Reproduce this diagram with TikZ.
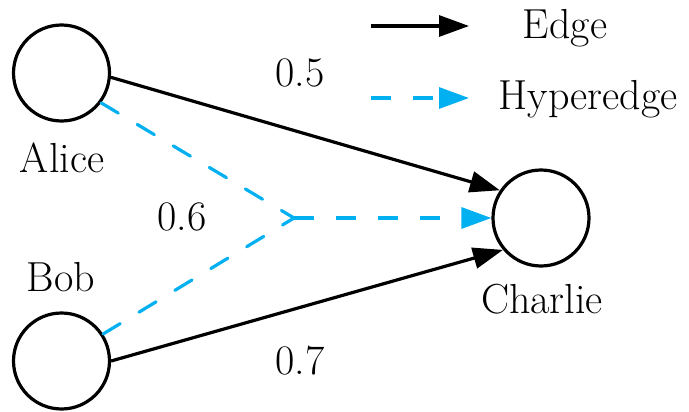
\documentclass[tikz,border=0pt]{standalone}
\usetikzlibrary{arrows.meta}
\definecolor{hblue}{RGB}{0,176,240}
\begin{document}
\begin{tikzpicture}[x=1pt,y=-1pt,
  person/.style={circle,draw=black,line width=3.2pt,minimum size=96pt,inner sep=0pt},
  lbl/.style={anchor=base,inner sep=0pt,font=\fontsize{42}{50}\selectfont},
  edgeline/.style={draw=black,line width=3.2pt,-{Triangle[length=30pt,width=21pt]}},
  hyper/.style={draw=hblue,line width=3.2pt,dash pattern=on 20pt off 22pt},
  hyperarrow/.style={hyper,-{Triangle[length=30pt,width=21pt]}}]
\useasboundingbox (0,0) rectangle (689,412);
\node[person] (alice) at (61.5,73) {};
\node[person] (bob) at (61.5,361) {};
\node[person] (charlie) at (541,218) {};
\coordinate (j) at (294,218);
\node[lbl] (la) at (62,172) {Alice};
\node[lbl] (lb) at (61,291) {Bob};
\node[lbl] (lc) at (542,313) {Charlie};
\node[lbl] (w5) at (300,87) {0.5};
\node[lbl] (w6) at (182,230) {0.6};
\node[lbl] (w7) at (300,374) {0.7};
\draw[edgeline] (alice.-5) -- (charlie.146);
\draw[edgeline] (bob.0) -- (charlie.-140);
\draw[hyper,line cap=round] (alice.-37) -- (j);
\draw[hyper,line cap=round] (bob.33) -- (j);
\draw[hyperarrow] (j) -- (charlie.west);
% legend
\coordinate (e1) at (371,26);
\coordinate (e2) at (469,26);
\coordinate (h1) at (371,98);
\coordinate (h2) at (469,98);
\draw[edgeline] (e1) -- (e2);
\draw[hyperarrow] (h1) -- (h2);
\node[lbl] (le) at (565,39) {Edge};
\node[lbl] (lh) at (588,110) {Hyperedge};
\end{tikzpicture}
\end{document}
